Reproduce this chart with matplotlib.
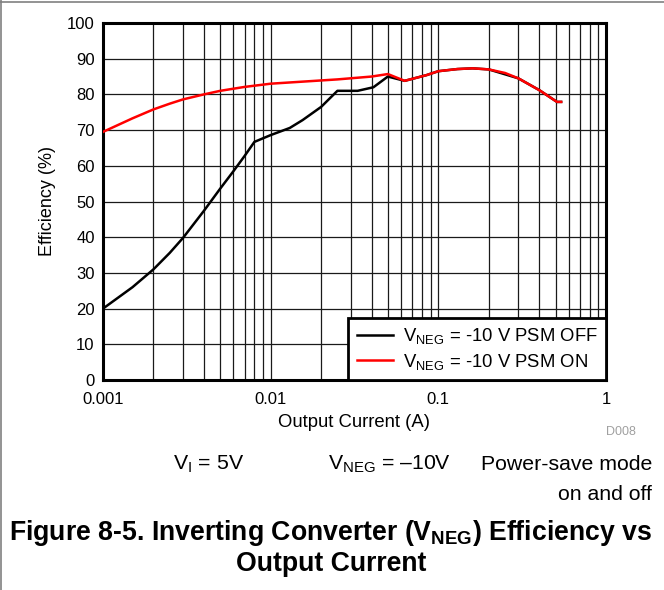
import matplotlib
matplotlib.use("Agg")
import matplotlib.pyplot as plt
from matplotlib.lines import Line2D
from matplotlib.ticker import FixedLocator, LogLocator, NullFormatter

plt.rcParams['font.family'] = ['Liberation Sans', 'DejaVu Sans']
plt.rcParams['mathtext.fontset'] = 'custom'
plt.rcParams['mathtext.rm'] = 'Liberation Sans'
plt.rcParams['mathtext.it'] = 'Liberation Sans'
plt.rcParams['mathtext.bf'] = 'Liberation Sans:bold'

# Data
current_off = [0.001, 0.0015, 0.002, 0.0025, 0.003, 0.004, 0.005, 0.006, 0.007, 0.008,
               0.01, 0.013, 0.0155, 0.02, 0.025, 0.033, 0.041, 0.05, 0.063,
               0.085, 0.1, 0.13, 0.16, 0.2, 0.3, 0.4, 0.51, 0.54]
eff_off = [20, 26, 31, 35.6, 39.8, 47.4, 53.6, 58.5, 62.8, 66.7,
           68.6, 70.6, 72.8, 76.5, 81, 81, 82, 85, 83.8,
           85.4, 86.5, 87.1, 87.3, 87, 84.5, 81.2, 77.9, 77.9]

current_on = [0.001, 0.0015, 0.002, 0.0025, 0.003, 0.004, 0.005, 0.007, 0.01, 0.025,
              0.04, 0.05, 0.063, 0.085, 0.1, 0.13, 0.16, 0.2, 0.25, 0.3, 0.4, 0.51, 0.54]
eff_on = [69.5, 73.3, 75.8, 77.4, 78.6, 80.0, 81.0, 82.1, 83.0, 84.2,
          85, 85.7, 83.8, 85.4, 86.5, 87.1, 87.3, 87, 86.0, 84.5, 81.2, 77.9, 77.9]

x_ticks = [0.001, 0.01, 0.1, 1]
x_tick_labels = ['0.001', '0.01', '0.1', '1']
y_ticks = list(range(0, 101, 10))

label_off = r'V$_{\mathrm{NEG}}$ = -10 V PSM OFF'
label_on = r'V$_{\mathrm{NEG}}$ = -10 V PSM ON'

fig = plt.figure(figsize=(6.64, 5.90), dpi=100)
W, H = 664, 590
left, right, top, bottom = 103, 606, 23, 380
ax = fig.add_axes([left / W, 1 - bottom / H, (right - left) / W, (bottom - top) / H])

ax.plot(current_off, eff_off, color='black', lw=1.8, label=label_off, zorder=3)
ax.plot(current_on, eff_on, color='#ff0000', lw=1.8, label=label_on, zorder=4)

ax.set_xscale('log')
ax.set_xlim(0.001, 1)
ax.set_ylim(0, 100)
ax.xaxis.set_major_locator(FixedLocator(x_ticks))
ax.set_xticklabels(x_tick_labels)
ax.xaxis.set_minor_locator(LogLocator(base=10, subs=range(2, 10)))
ax.xaxis.set_minor_formatter(NullFormatter())
ax.set_yticks(y_ticks)
ax.grid(True, which='major', color='#1a1a1a', lw=0.9)
ax.grid(True, which='minor', axis='x', color='#1a1a1a', lw=0.9)
ax.tick_params(which='both', length=0)
ax.tick_params(axis='x', pad=9, labelsize=12)
ax.tick_params(axis='y', pad=6, labelsize=12)
for s in ax.spines.values():
    s.set_linewidth(2.2)
    s.set_color('black')

ax.set_xlabel('Output Current (A)', fontsize=13.3, labelpad=5)
ax.set_ylabel('Efficiency (%)', fontsize=13, labelpad=8)

leg = ax.legend(loc='lower right', borderaxespad=0, fancybox=False, framealpha=1,
                edgecolor='black', fontsize=13.3, handlelength=1.95, handletextpad=0.55,
                borderpad=0.45, labelspacing=0.3)
leg.get_frame().set_linewidth(2)

fig.text(636 / W, 1 - 432 / H, 'D008', color='#a0a0a0', fontsize=9, ha='right', va='center')
fig.text(173 / W, 1 - 464 / H, r'V$_{\mathrm{I}}$ = 5V', fontsize=15.3, ha='left', va='center')
fig.text(328 / W, 1 - 464 / H, r'V$_{\mathrm{NEG}}$ = –10V', fontsize=15.3, ha='left', va='center')
fig.text(652 / W, 1 - 464 / H, 'Power-save mode', fontsize=15.3, ha='right', va='center')
fig.text(652 / W, 1 - 494 / H, 'on and off', fontsize=15.3, ha='right', va='center')
fig.text(331 / W, 1 - 533 / H,
         r'Figure 8-5. Inverting Converter (V$_{\mathbf{NEG}}$) Efficiency vs',
         fontsize=19.2, fontweight='bold', ha='center', va='center')
fig.text(331 / W, 1 - 564 / H, 'Output Current', fontsize=19.2, fontweight='bold',
         ha='center', va='center')

# figure frame lines (top and left)
fig.add_artist(Line2D([0, 1], [1 - 1.5 / H, 1 - 1.5 / H], transform=fig.transFigure,
                      color='#808080', lw=1.2))
fig.add_artist(Line2D([1.0 / W, 1.0 / W], [0, 1], transform=fig.transFigure,
                      color='#808080', lw=1.2))

fig.savefig('out.png', dpi=100)
